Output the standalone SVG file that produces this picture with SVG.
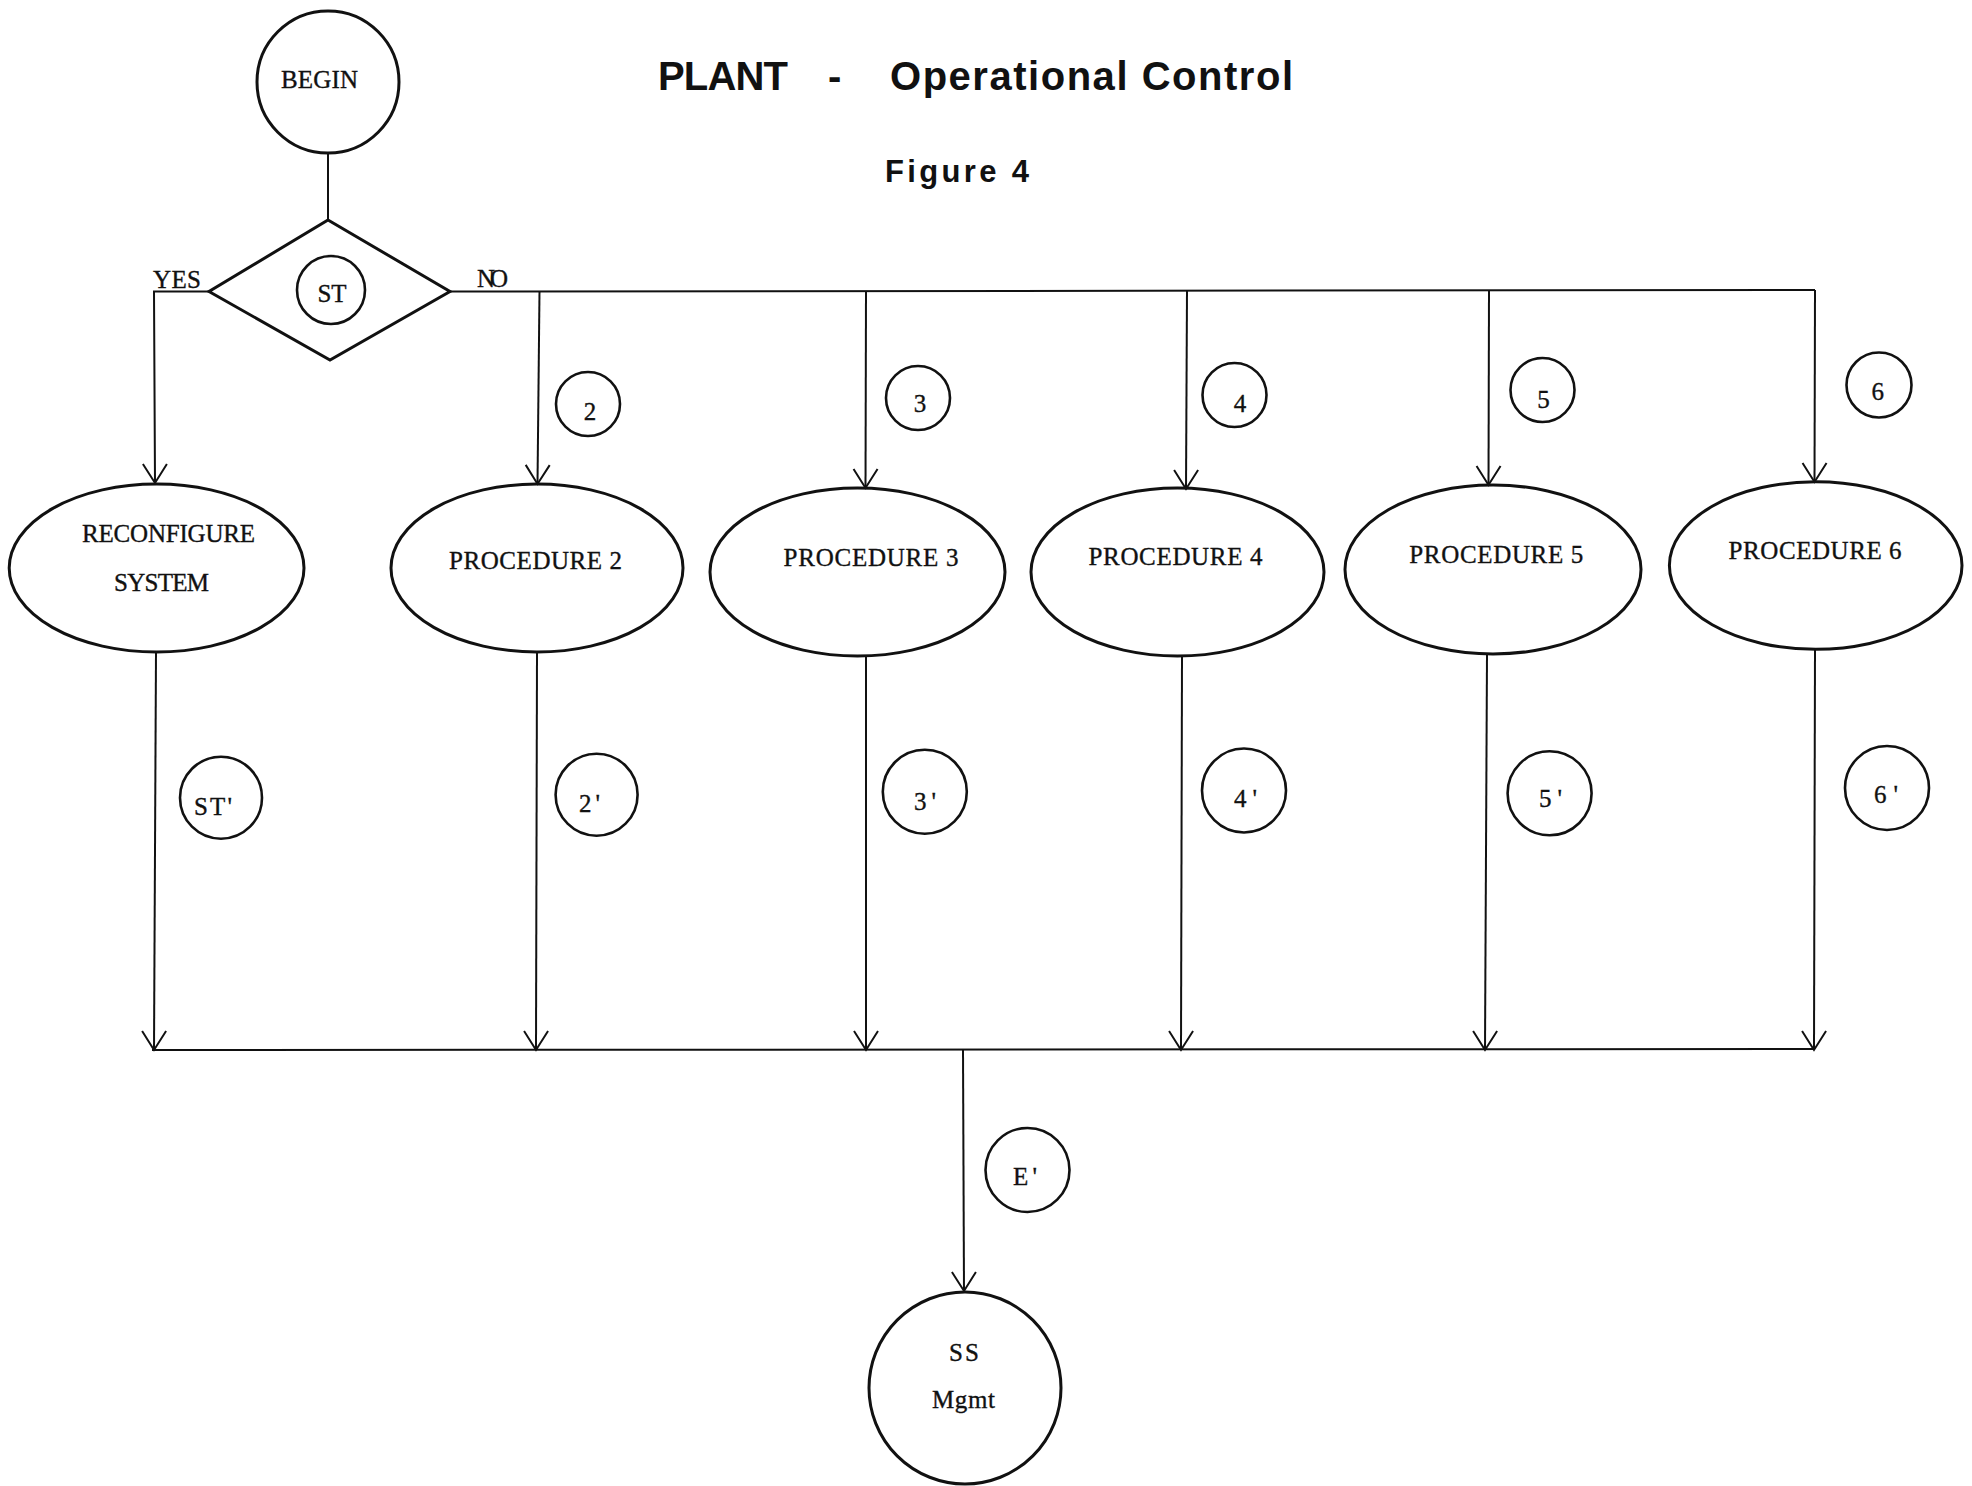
<svg xmlns="http://www.w3.org/2000/svg" width="1972" height="1486" viewBox="0 0 1972 1486">
  <style>
    .shape { fill: none; stroke: #111; stroke-width: 3; }
    .tag { fill: none; stroke: #111; stroke-width: 2.6; }
    .wire { fill: none; stroke: #111; stroke-width: 2; }
    .type { font-family: "Liberation Serif", "Times New Roman", serif; font-size: 25px; fill: #111; stroke: #111; stroke-width: 0.35; }
    .head { font-family: "Liberation Sans", Arial, sans-serif; font-weight: bold; fill: #111; }
  </style>
  <defs>
    <marker id="vee" markerUnits="userSpaceOnUse" markerWidth="30" markerHeight="30" viewBox="0 0 30 30" refX="25" refY="14" orient="auto" overflow="visible">
      <path d="M6,2 L25,14 L6,26" fill="none" stroke="#111" stroke-width="2"/>
    </marker>
  </defs>
  <rect width="1972" height="1486" fill="#fff"/>

  <!-- headings -->
  <g id="title">
    <text class="head" x="658" y="90" font-size="40" textLength="130" lengthAdjust="spacing">PLANT</text>
    <text class="head" x="828" y="90" font-size="40">-</text>
    <text class="head" x="890" y="90" font-size="40" textLength="403" lengthAdjust="spacing">Operational Control</text>
    <text class="head" x="885" y="182" font-size="31" textLength="144" lengthAdjust="spacing">Figure 4</text>
  </g>

  <!-- connectors -->
  <g id="connectors">
    <path class="wire" d="M328,153 L328,220"/>
    <path class="wire" d="M209,291.5 L154,291.5 L155,483" marker-end="url(#vee)"/>
    <path class="wire" d="M450,291.5 L1815,290"/>
    <path class="wire" d="M539.5,291 L537.5,484" marker-end="url(#vee)"/>
    <path class="wire" d="M866,291 L865.5,488" marker-end="url(#vee)"/>
    <path class="wire" d="M1187,290.5 L1186,489" marker-end="url(#vee)"/>
    <path class="wire" d="M1489,290 L1488.5,485" marker-end="url(#vee)"/>
    <path class="wire" d="M1815,290 L1814.5,482" marker-end="url(#vee)"/>
    <path class="wire" d="M156,652 L154,1050" marker-end="url(#vee)"/>
    <path class="wire" d="M537,653 L536,1050" marker-end="url(#vee)"/>
    <path class="wire" d="M866,657 L866,1050" marker-end="url(#vee)"/>
    <path class="wire" d="M1182,656 L1181,1050" marker-end="url(#vee)"/>
    <path class="wire" d="M1487,654 L1485,1050" marker-end="url(#vee)"/>
    <path class="wire" d="M1815,649 L1814,1050" marker-end="url(#vee)"/>
    <path class="wire" d="M152,1050 L1814,1049" stroke-width="2.6"/>
    <path class="wire" d="M963,1050 L964,1291" marker-end="url(#vee)"/>
  </g>

  <!-- start and decision -->
  <g id="begin">
    <circle class="shape" cx="328" cy="82" r="71"/>
    <text class="type" x="281" y="88" textLength="77" lengthAdjust="spacing">BEGIN</text>
  </g>
  <g id="decision">
    <path class="shape" d="M328,220 L450,291.5 L330,360 L209,291.5 Z"/>
    <circle class="tag" cx="331" cy="290" r="34"/>
    <text class="type" x="317.5" y="301.5" textLength="29" lengthAdjust="spacing">ST</text>
    <text class="type" x="153" y="288" textLength="48" lengthAdjust="spacing">YES</text>
    <text class="type" x="477" y="286.5" textLength="31" lengthAdjust="spacing">NO</text>
  </g>

  <!-- procedures -->
  <g id="reconfigure">
    <ellipse class="shape" cx="156.6" cy="568" rx="147.4" ry="84"/>
    <text class="type" x="82" y="541.7" textLength="173" lengthAdjust="spacing">RECONFIGURE</text>
    <text class="type" x="114" y="590.7" textLength="95" lengthAdjust="spacing">SYSTEM</text>
  </g>
  <g id="procedure-2">
    <ellipse class="shape" cx="537" cy="568" rx="146" ry="84"/>
    <text class="type" x="449" y="568.5" textLength="173" lengthAdjust="spacing">PROCEDURE 2</text>
  </g>
  <g id="procedure-3">
    <ellipse class="shape" cx="857.5" cy="572" rx="147.5" ry="84"/>
    <text class="type" x="783.6" y="566" textLength="175" lengthAdjust="spacing">PROCEDURE 3</text>
  </g>
  <g id="procedure-4">
    <ellipse class="shape" cx="1177.5" cy="572" rx="146.5" ry="84"/>
    <text class="type" x="1088.5" y="565" textLength="174" lengthAdjust="spacing">PROCEDURE 4</text>
  </g>
  <g id="procedure-5">
    <ellipse class="shape" cx="1493" cy="569.5" rx="148" ry="84.5"/>
    <text class="type" x="1409.3" y="562.7" textLength="174" lengthAdjust="spacing">PROCEDURE 5</text>
  </g>
  <g id="procedure-6">
    <ellipse class="shape" cx="1815.7" cy="565.5" rx="146.3" ry="83.8"/>
    <text class="type" x="1728.6" y="559.3" textLength="173" lengthAdjust="spacing">PROCEDURE 6</text>
  </g>

  <!-- entry tags -->
  <g id="tag-2">
    <circle class="tag" cx="588" cy="404" r="32"/>
    <text class="type" x="590" y="420" text-anchor="middle">2</text>
  </g>
  <g id="tag-3">
    <circle class="tag" cx="918" cy="398" r="32"/>
    <text class="type" x="920" y="411.7" text-anchor="middle">3</text>
  </g>
  <g id="tag-4">
    <circle class="tag" cx="1234.5" cy="395" r="32"/>
    <text class="type" x="1240" y="411.7" text-anchor="middle">4</text>
  </g>
  <g id="tag-5">
    <circle class="tag" cx="1542.5" cy="390" r="32"/>
    <text class="type" x="1543.4" y="408.3" text-anchor="middle">5</text>
  </g>
  <g id="tag-6">
    <circle class="tag" cx="1879" cy="385" r="32.5"/>
    <text class="type" x="1877.7" y="400" text-anchor="middle">6</text>
  </g>

  <!-- exit tags -->
  <g id="tag-st-prime">
    <circle class="tag" cx="221" cy="797.7" r="41"/>
    <text class="type" x="194" y="815" textLength="38" lengthAdjust="spacing">ST'</text>
  </g>
  <g id="tag-2-prime">
    <circle class="tag" cx="596.6" cy="794.7" r="41"/>
    <text class="type" x="579" y="811.7" textLength="21" lengthAdjust="spacing">2'</text>
  </g>
  <g id="tag-3-prime">
    <circle class="tag" cx="924.8" cy="791.7" r="42"/>
    <text class="type" x="914" y="810" textLength="22" lengthAdjust="spacing">3'</text>
  </g>
  <g id="tag-4-prime">
    <circle class="tag" cx="1244" cy="790.5" r="42"/>
    <text class="type" x="1234" y="806.7" textLength="23" lengthAdjust="spacing">4'</text>
  </g>
  <g id="tag-5-prime">
    <circle class="tag" cx="1549.6" cy="793.3" r="42"/>
    <text class="type" x="1539" y="807" textLength="23" lengthAdjust="spacing">5'</text>
  </g>
  <g id="tag-6-prime">
    <circle class="tag" cx="1887" cy="788" r="42"/>
    <text class="type" x="1874" y="802.7" textLength="24" lengthAdjust="spacing">6'</text>
  </g>
  <g id="tag-e-prime">
    <circle class="tag" cx="1027.5" cy="1170" r="42"/>
    <text class="type" x="1013" y="1185" textLength="24" lengthAdjust="spacing">E'</text>
  </g>

  <!-- end -->
  <g id="ss-mgmt">
    <circle class="shape" cx="965" cy="1388" r="96"/>
    <text class="type" x="949" y="1361" textLength="30" lengthAdjust="spacing">SS</text>
    <text class="type" x="932" y="1407.5" textLength="63" lengthAdjust="spacing">Mgmt</text>
  </g>
</svg>
